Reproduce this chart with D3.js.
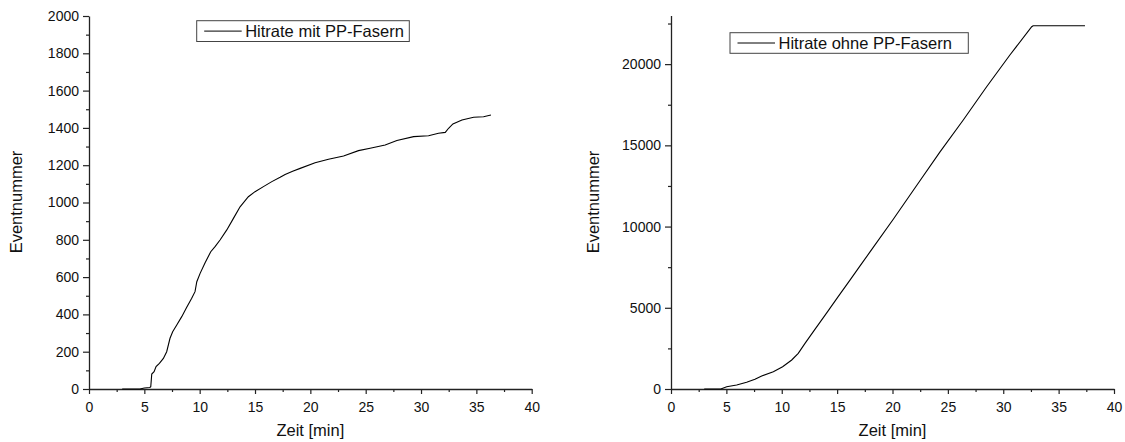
<!DOCTYPE html>
<html>
<head>
<meta charset="utf-8">
<script src="https://cdn.jsdelivr.net/npm/d3@7"></script>
<style>
  html, body { margin: 0; padding: 0; background: #fff; }
  svg { display: block; font-family: "Liberation Sans", Arial, sans-serif; }
</style>
</head>
<body>
<div id="chart"></div>
<script>
// ---- data ----
const mitTime  = [3.0, 4.6, 5.0, 5.5, 5.58, 5.67, 5.88, 6.06, 6.36, 6.72, 7.02, 7.32, 7.56, 7.93, 8.38, 8.83, 9.28, 9.58, 9.74, 10.04, 10.49, 11.0, 11.39, 11.84, 12.45, 13.05, 13.65, 14.4, 15.0, 15.76, 16.52, 17.27, 17.72, 18.4, 19.08, 20.43, 21.64, 23.0, 24.35, 25.4, 26.76, 27.82, 29.33, 30.68, 31.58, 32.19, 32.49, 32.88, 33.7, 34.75, 35.65, 36.32];
const mitCount = [0, 0, 5, 8, 12, 80, 93, 120, 138, 164, 200, 272, 307, 343, 388, 438, 486, 522, 575, 620, 677, 736, 763, 799, 853, 915, 977, 1031, 1058, 1085, 1112, 1135, 1150, 1168, 1183, 1213, 1232, 1249, 1278, 1291, 1308, 1332, 1353, 1358, 1371, 1376, 1398, 1421, 1442, 1457, 1460, 1469];

const ohneTime  = [3.0, 4.5, 5.03, 5.93, 6.83, 7.58, 8.19, 9.24, 10.08, 10.9, 11.49, 12.1, 12.85, 14.06, 15.11, 16.16, 17.07, 17.97, 20.07, 22.18, 24.29, 26.39, 28.5, 30.6, 32.57, 32.7, 37.38];
const ohneCount = [0, 0, 142, 246, 410, 595, 800, 1065, 1375, 1785, 2195, 2810, 3530, 4690, 5700, 6700, 7576, 8440, 10450, 12530, 14600, 16560, 18610, 20560, 22302, 22365, 22365];

const xTicks      = [0, 5, 10, 15, 20, 25, 30, 35, 40];
const xMinorTicks = [2.5, 7.5, 12.5, 17.5, 22.5, 27.5, 32.5, 37.5];
const mitYTicks      = [0, 200, 400, 600, 800, 1000, 1200, 1400, 1600, 1800, 2000];
const mitYMinorTicks = [100, 300, 500, 700, 900, 1100, 1300, 1500, 1700, 1900];
const ohneYTicks      = [0, 5000, 10000, 15000, 20000];
const ohneYMinorTicks = [2500, 7500, 12500, 17500, 22500];

const xLabel = "Zeit [min]";
const yLabel = "Eventnummer";
const mitLegend  = "Hitrate mit PP-Fasern";
const ohneLegend = "Hitrate ohne PP-Fasern";

// ---- layout ----
const width = 1125, height = 442;

const svg = d3.select("#chart").append("svg")
  .attr("width", width)
  .attr("height", height);

function drawPanel(cfg) {
  const g = svg.append("g");

  const x = d3.scaleLinear().domain([0, 40]).range([cfg.left, cfg.right]);
  const y = d3.scaleLinear().domain([0, cfg.yMax]).range([cfg.bottom, cfg.top]);

  // minor ticks first, major on top
  g.append("g")
    .attr("transform", `translate(0,${cfg.bottom})`)
    .call(d3.axisBottom(x).tickValues(xMinorTicks).tickSize(3).tickFormat(""))
    .call(a => a.select(".domain").remove());
  g.append("g")
    .attr("transform", `translate(${cfg.left},0)`)
    .call(d3.axisLeft(y).tickValues(cfg.yMinor).tickSize(3).tickFormat(""))
    .call(a => a.select(".domain").remove());

  g.append("g")
    .attr("transform", `translate(0,${cfg.bottom})`)
    .call(d3.axisBottom(x).tickValues(xTicks).tickSize(5).tickSizeOuter(0).tickPadding(8));

  g.append("g")
    .attr("transform", `translate(${cfg.left},0)`)
    .call(d3.axisLeft(y).tickValues(cfg.yTicks).tickSize(6).tickSizeOuter(0).tickPadding(4).tickFormat(d3.format("d")));

  g.selectAll(".tick line").attr("stroke", "#222").attr("stroke-width", 1.2);
  g.selectAll(".domain").attr("stroke", "#222").attr("stroke-width", 1.3);
  g.selectAll(".tick text")
    .attr("fill", "#111")
    .style("font-family", "'Liberation Sans', Arial, sans-serif")
    .style("font-size", "14px");

  // curve
  const line = d3.line().x(d => x(d[0])).y(d => y(d[1]));
  g.append("path")
    .datum(d3.zip(cfg.time, cfg.count))
    .attr("fill", "none")
    .attr("stroke", "#000")
    .attr("stroke-width", 1.1)
    .attr("d", line);

  // axis titles
  g.append("text")
    .text(xLabel)
    .attr("transform", `translate(${(cfg.left + cfg.right) / 2},436)`)
    .attr("text-anchor", "middle")
    .style("font-size", "16.5px")
    .attr("fill", "#111");
  g.append("text")
    .text(yLabel)
    .attr("transform", `translate(${cfg.yTitleX},${cfg.yTitleY}) rotate(-90)`)
    .attr("text-anchor", "middle")
    .attr("dy", "0.35em")
    .style("font-size", "16.5px")
    .attr("fill", "#111");

  // legend
  const lg = g.append("g");
  const b = cfg.legendBox;
  lg.append("rect")
    .attr("x", b.x).attr("y", b.y)
    .attr("width", b.w).attr("height", b.h)
    .attr("fill", "#fff")
    .attr("stroke", "#444")
    .attr("stroke-width", 1);
  lg.append("line")
    .attr("x1", b.x + 7.5).attr("x2", b.x + 45)
    .attr("y1", b.y + b.h / 2).attr("y2", b.y + b.h / 2)
    .attr("stroke", "#000").attr("stroke-width", 1);
  lg.append("text")
    .text(cfg.legend)
    .attr("transform", `translate(${b.x + 48.5},${b.y + b.h / 2})`)
    .attr("dy", "0.36em")
    .style("font-size", "16.5px")
    .attr("fill", "#111");
}

drawPanel({
  left: 89, right: 531.7, top: 16, bottom: 389, yMax: 2000,
  yTicks: mitYTicks, yMinor: mitYMinorTicks,
  time: mitTime, count: mitCount,
  legend: mitLegend,
  legendBox: { x: 196.7, y: 20.7, w: 212.6, h: 20.8 },
  yTitleX: 16, yTitleY: 202
});

drawPanel({
  left: 671, right: 1114, top: 15.4, bottom: 389, yMax: 23000,
  yTicks: ohneYTicks, yMinor: ohneYMinorTicks,
  time: ohneTime, count: ohneCount,
  legend: ohneLegend,
  legendBox: { x: 730, y: 32.7, w: 238.3, h: 20.6 },
  yTitleX: 593, yTitleY: 202
});
</script>
</body>
</html>
